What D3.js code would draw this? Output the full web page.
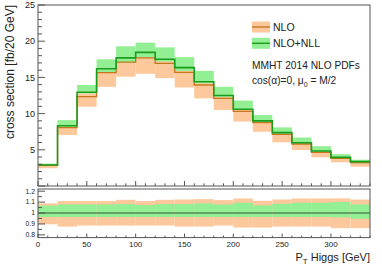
<!doctype html>
<html lang=en>
<head>
<meta charset=utf-8>
<title>Higgs pT</title>
<script src="https://d3js.org/d3.v7.min.js"></script>
<style>
  body { margin: 0; background: #fff; }
  text { font-family: "Liberation Sans", Arial, sans-serif; fill: #222; }
</style>
</head>
<body>
<div id="container"></div>
<script>
// bin edges [GeV], 20 GeV wide
var binLo = d3.range(0, 340, 20);
var binW = 20;

// NLO (orange) cross section per bin [fb/20 GeV]
var nloCentral = [2.85, 8.06, 12.34, 15.65, 17.1, 17.7, 16.95, 15.7, 13.95, 12.1, 10.3, 8.75, 7.14, 5.8, 4.65, 3.82, 3.22];
var nloUp      = [3.0, 8.2, 12.8, 15.9, 17.4, 17.8, 17.6, 16.1, 14.2, 12.3, 10.5, 9.0, 7.37, 6.0, 4.83, 3.96, 3.3];
var nloDown    = [2.45, 7.05, 10.95, 13.7, 15.1, 15.5, 14.9, 13.6, 12.1, 10.5, 8.9, 7.5, 6.03, 4.97, 3.96, 3.27, 2.67];

// NLO+NLL (green)
var nllCentral = [2.9, 8.33, 12.94, 16.2, 17.7, 18.45, 17.5, 16.35, 14.4, 12.5, 10.6, 9.0, 7.37, 5.98, 4.83, 3.96, 3.36];
var nllUp      = [3.1, 9.1, 13.95, 17.5, 19.3, 19.8, 19.15, 17.8, 15.9, 13.7, 11.8, 9.8, 8.1, 6.7, 5.5, 4.4, 3.63];
var nllDown    = [2.76, 8.1, 12.8, 15.65, 17.0, 17.8, 17.2, 15.9, 14.2, 12.3, 10.5, 8.85, 7.14, 5.8, 4.7, 3.82, 3.13];

// ratio panel bands
var ratioNloUp   = [1.088, 1.109, 1.109, 1.109, 1.121, 1.109, 1.121, 1.124, 1.127, 1.118, 1.133, 1.112, 1.124, 1.133, 1.133, 1.134, 1.123];
var ratioNloDown = [0.897, 0.876, 0.885, 0.885, 0.885, 0.885, 0.885, 0.876, 0.876, 0.885, 0.867, 0.867, 0.876, 0.876, 0.876, 0.861, 0.861];
var ratioNllUp   = [1.067, 1.079, 1.079, 1.079, 1.082, 1.073, 1.082, 1.082, 1.088, 1.079, 1.094, 1.07, 1.085, 1.094, 1.094, 1.1, 1.079];
var ratioNllDown = [0.963, 0.963, 0.963, 0.963, 0.963, 0.963, 0.963, 0.963, 0.963, 0.963, 0.963, 0.963, 0.963, 0.963, 0.963, 0.96, 0.948];

var yTicksTop = [5, 10, 15, 20, 25];
var yTicksRatio = [0.8, 0.9, 1, 1.1, 1.2];
var xTicks = [0, 50, 100, 150, 200, 250, 300];

var w = 382, h = 267;
var svg = d3.select("#container").append("svg").attr("width", w).attr("height", h);

var x = d3.scaleLinear().domain([0, 340]).range([38, 370]);
var y = d3.scaleLinear().domain([0, 25]).range([186, 5]);
var yr = d3.scaleLinear().domain([0.775, 1.22]).range([237.6, 189]);

var orangeFill = "#fdc89b", greenFill = "#93ef93";
var orangeLine = "#c8761e", greenLine = "#1c9c1c";

function bands(g, sc, up, down, fill) {
  g.selectAll(null).data(binLo).enter().append("rect")
    .attr("x", function(d) { return x(d); })
    .attr("width", function(d) { return x(d + binW) - x(d); })
    .attr("y", function(d, i) { return sc(up[i]); })
    .attr("height", function(d, i) { return sc(down[i]) - sc(up[i]); })
    .attr("fill", fill);
}

function stepLine(vals) {
  var pts = binLo.map(function(d, i) { return [d, vals[i]]; });
  pts.push([340, vals[vals.length - 1]]);
  return d3.line().curve(d3.curveStepAfter)
    .x(function(d) { return x(d[0]); }).y(function(d) { return y(d[1]); })(pts);
}

// upper panel
var gTop = svg.append("g");
bands(gTop, y, nloUp, nloDown, orangeFill);
bands(gTop, y, nllUp, nllDown, greenFill);
gTop.append("path").attr("d", stepLine(nloCentral)).attr("fill", "none").attr("stroke", orangeLine).attr("stroke-width", 1.3);
gTop.append("path").attr("d", stepLine(nllCentral)).attr("fill", "none").attr("stroke", greenLine).attr("stroke-width", 1.6);

// ratio panel
var gBot = svg.append("g");
bands(gBot, yr, ratioNloUp, ratioNloDown, orangeFill);
bands(gBot, yr, ratioNllUp, ratioNllDown, greenFill);
gBot.append("line").attr("x1", x(0)).attr("x2", x(340)).attr("y1", yr(1)).attr("y2", yr(1))
  .attr("stroke", "#558a55").attr("stroke-width", 1.6);

// frames
var frameCol = "#555";
svg.append("rect").attr("x", 38).attr("y", 5).attr("width", 332).attr("height", 181)
  .attr("fill", "none").attr("stroke", frameCol);
svg.append("rect").attr("x", 38).attr("y", 189).attr("width", 332).attr("height", 48.6)
  .attr("fill", "none").attr("stroke", frameCol);

// ticks
var tk = svg.append("g").attr("stroke", frameCol).attr("stroke-width", 1);
d3.range(0, 26, 1).forEach(function(v) {
  var len = v % 5 === 0 ? 7 : 4;
  tk.append("line").attr("x1", 38).attr("x2", 38 + len).attr("y1", y(v)).attr("y2", y(v));
});
d3.range(0.8, 1.2001, 0.05).forEach(function(v) {
  var major = Math.abs(v * 10 - Math.round(v * 10)) < 1e-6;
  tk.append("line").attr("x1", 38).attr("x2", 38 + (major ? 7 : 4)).attr("y1", yr(v)).attr("y2", yr(v));
});
d3.range(0, 341, 10).forEach(function(v) {
  var major = v % 50 === 0;
  tk.append("line").attr("x1", x(v)).attr("x2", x(v)).attr("y1", 186).attr("y2", 186 - (major ? 5 : 2.7));
  tk.append("line").attr("x1", x(v)).attr("x2", x(v)).attr("y1", 237.6).attr("y2", 237.6 - (major ? 4 : 2));
});

// tick labels
svg.selectAll(null).data(yTicksTop).enter().append("text")
  .attr("x", 35).attr("y", function(d) { return y(d); }).attr("dy", "0.35em")
  .attr("text-anchor", "end").attr("font-size", 9).text(function(d) { return d; });
svg.selectAll(null).data(yTicksRatio).enter().append("text")
  .attr("x", 35).attr("y", function(d) { return yr(d); }).attr("dy", "0.35em")
  .attr("text-anchor", "end").attr("font-size", 6.8).text(function(d) { return d; });
svg.selectAll(null).data(xTicks).enter().append("text")
  .attr("x", function(d) { return x(d); }).attr("y", 247)
  .attr("text-anchor", "middle").attr("font-size", 8).text(function(d) { return d; });

// axis titles
svg.append("text").attr("transform", "translate(13.5,5) rotate(-90)")
  .attr("text-anchor", "end").attr("font-size", 12).text("cross section [fb/20 GeV]");
var xt = svg.append("text").attr("x", 370).attr("y", 260.5).attr("text-anchor", "end").attr("font-size", 11);
xt.append("tspan").text("P");
xt.append("tspan").attr("font-size", 8).attr("dy", 3).text("T");
xt.append("tspan").attr("dy", -3).text(" Higgs [GeV]");

// legend
var leg = [{name: "NLO", fill: orangeFill, line: orangeLine, y: 27},
           {name: "NLO+NLL", fill: greenFill, line: greenLine, y: 43.3}];
leg.forEach(function(l) {
  svg.append("rect").attr("x", 252).attr("y", l.y - 5.5).attr("width", 18).attr("height", 11).attr("fill", l.fill);
  svg.append("line").attr("x1", 252).attr("x2", 270).attr("y1", l.y).attr("y2", l.y).attr("stroke", l.line).attr("stroke-width", 1.4);
  svg.append("text").attr("x", 273).attr("y", l.y).attr("dy", "0.36em").attr("font-size", 10.5).text(l.name);
});
svg.append("text").attr("x", 252).attr("y", 68.6).attr("font-size", 10.2).text("MMHT 2014 NLO PDFs");
var info = svg.append("text").attr("x", 252).attr("y", 83.5).attr("font-size", 10.2);
info.append("tspan").text("cos(\u03b1)=0, \u03bc");
info.append("tspan").attr("font-size", 7).attr("dy", 3).text("0");
info.append("tspan").attr("dy", -3).text(" = M/2");
</script>
</body>
</html>
